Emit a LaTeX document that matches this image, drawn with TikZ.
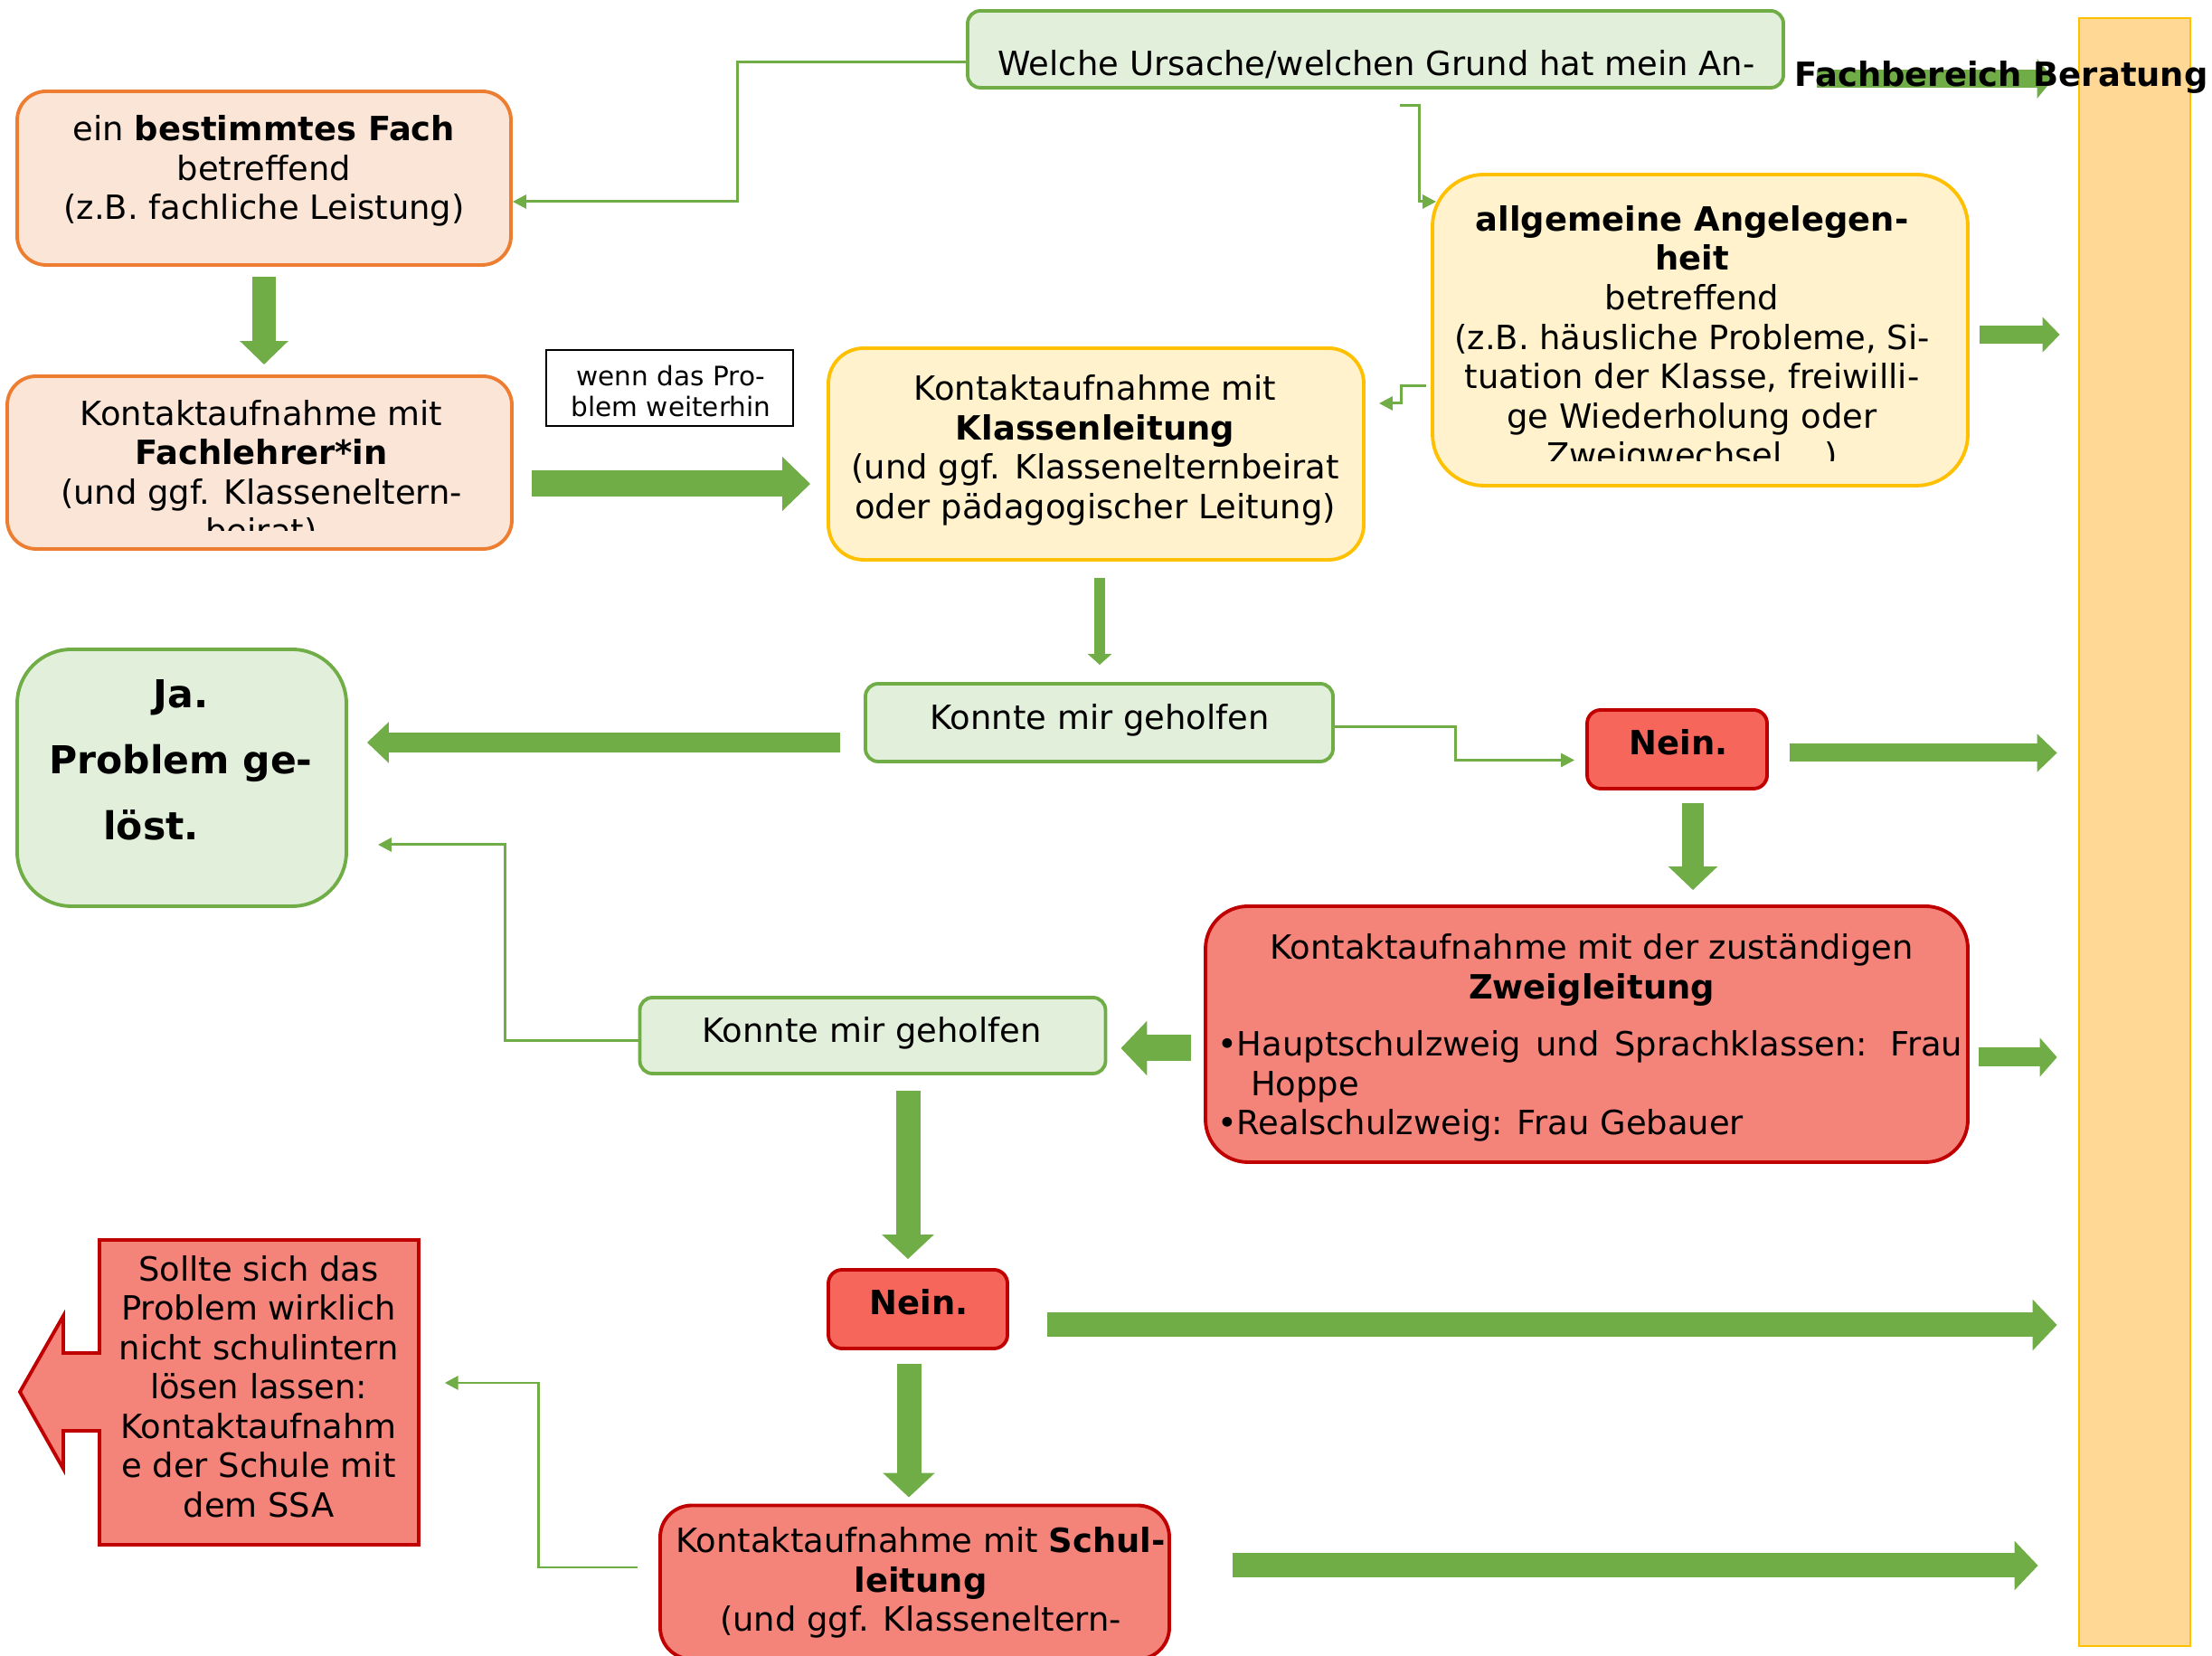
\documentclass[tikz,border=0pt]{standalone}
\usepackage{fontspec}
\setmainfont{DejaVu Sans}
\usetikzlibrary{arrows.meta}

\definecolor{grn}{HTML}{70AD47}
\definecolor{grnfill}{HTML}{E2EFDA}
\definecolor{org}{HTML}{ED7D31}
\definecolor{orgfill}{HTML}{FBE5D6}
\definecolor{ylw}{HTML}{FFC000}
\definecolor{ylwfill}{HTML}{FFF2CC}
\definecolor{dred}{HTML}{C00000}
\definecolor{neinfill}{HTML}{F6665A}
\definecolor{redfill}{HTML}{F4837A}
\definecolor{colfill}{HTML}{FFD896}

\tikzset{
	txt/.style={font=\fontsize{10.5}{12.4}\selectfont, align=center, inner sep=0pt},
	box/.style={draw, line width=1.1pt, inner sep=0pt},
	greenbox/.style={box, draw=grn, fill=grnfill},
	link/.style={draw=grn, line width=0.85pt, -{Triangle[length=1.5mm,width=1.5mm]}},
	fat/.style n args={3}{draw=grn, line width=#1, -{Triangle[width=#2,length=#3]}}
}

\begin{document}
\begin{tikzpicture}
	%%%%% START %%%%%
	\useasboundingbox (0,0) rectangle (24.46,18.31);

	\node[box, draw=ylw, fill=colfill, line width=0.8pt, minimum width=1.23cm, minimum height=18cm] (beratung) at (23.605, 9.11) {};

	\node[greenbox, rounded corners=1.4mm, minimum width=9.02cm, minimum height=0.85cm] (ursache) at (15.21, 17.765) {};
	\node[txt] (ursache-t) at (15.22, 17.60) {Welche Ursache/welchen Grund hat mein An-};
	\draw[fat={2mm}{4.3mm}{1.8mm}, shorten <=3.5mm, shorten >=2.7mm] ([yshift=-3.25mm]ursache.east) -- ([yshift=-3.25mm]ursache.east -| beratung.west);
	\node[txt] (beratung-t) at (22.13, 17.46) {\textbf{Fachbereich Beratung}};

	\node[box, draw=org, fill=orgfill, rounded corners=3.2mm, minimum width=5.46cm, minimum height=1.92cm] (fach) at (2.92, 16.34) {};
	\node[txt] (fach-t) at (2.92, 16.42) {ein \textbf{bestimmtes Fach}\\betreffend\\(z.B. fachliche Leistung)};
	\draw[link] ([yshift=-1.4mm]ursache.west) -- ++(-2.53,0) |- ([yshift=-2.6mm]fach.east);

	\node[box, draw=org, fill=orgfill, rounded corners=3.2mm, minimum width=5.58cm, minimum height=1.91cm] (fachl) at (2.87, 13.195) {};
	\begin{scope}
		\clip (0,12.44) rectangle (6,14.1);
		\node[txt] (fachl-t) at (2.89, 13.07) {Kontaktaufnahme mit\\\textbf{Fachlehrer*in}\\(und ggf. Klasseneltern-\\beirat)};
	\end{scope}
	\draw[fat={2.6mm}{5.2mm}{2.6mm}, shorten <=1.1mm, shorten >=1.1mm] (fach.south) -- (fach.south |- fachl.north);

	\node[draw, line width=0.6pt, inner sep=0pt, minimum width=2.73cm, minimum height=0.84cm] (wenn) at (7.405, 14.02) {};
	\node[txt, font=\fontsize{8.4}{9.6}\selectfont] (wenn-t) at (7.42, 13.985) {wenn das Pro-\\blem weiterhin};

	\node[box, draw=ylw, fill=ylwfill, rounded corners=3.9mm, minimum width=5.92cm, minimum height=2.34cm] (klass) at (12.12, 13.29) {};
	\node[txt] (klass-t) at (12.11, 13.33) {Kontaktaufnahme mit\\\textbf{Klassenleitung}\\(und ggf. Klassenelternbeirat\\oder pädagogischer Leitung)};
	\draw[fat={2.9mm}{5.8mm}{3.1mm}, shorten <=2mm, shorten >=1.8mm] ([yshift=-2.35mm]fachl.east) -- ([yshift=-2.35mm]fachl.east -| klass.west);

	\node[box, draw=ylw, fill=ylwfill, rounded corners=5.7mm, minimum width=5.92cm, minimum height=3.44cm] (allg) at (18.80, 14.66) {};
	\begin{scope}
		\clip (15,13.21) rectangle (22,16.3);
		\node[txt] (allg-t) at (18.71, 14.55) {\textbf{allgemeine Angelegen-}\\\textbf{heit}\\betreffend\\(z.B. häusliche Probleme, Si-\\tuation der Klasse, freiwilli-\\ge Wiederholung oder\\Zweigwechsel ...)};
	\end{scope}
	\coordinate (ursache-ab) at (15.48, 17.14);
	\draw[link] (ursache-ab) -- ++(0.21,0) |- ([xshift=0.6mm, yshift=14.2mm]allg.west);
	\draw[link] ([xshift=-0.5mm, yshift=-6.2mm]allg.west) -- ++(-0.28,0) |- ([xshift=1.5mm, yshift=5.6mm]klass.east);
	\draw[fat={2mm}{3.8mm}{1.9mm}, shorten <=1.1mm, shorten >=2mm] ([yshift=-0.5mm]allg.east) -- ([yshift=-0.5mm]allg.east -| beratung.west);

	\node[greenbox, rounded corners=1.4mm, minimum width=5.17cm, minimum height=0.86cm] (konnte1) at (12.155, 10.32) {};
	\node[txt] (konnte1-t) at (12.16, 10.35) {Konnte mir geholfen};
	\draw[fat={1.2mm}{2.6mm}{1.2mm}, shorten <=1.8mm, shorten >=1.9mm] ([xshift=0.4mm]klass.south) -- ([xshift=0.4mm]klass.south |- konnte1.north);

	\node[greenbox, rounded corners=6mm, minimum width=3.64cm, minimum height=2.84cm] (ja) at (2.01, 9.71) {};
	\node[txt, font=\fontsize{12.1}{20.8}\selectfont\bfseries] (ja-t) at (2.0, 9.91) {Ja.\\Problem ge-\\löst.\hspace*{6.6mm}};
	\draw[fat={2.2mm}{4.4mm}{2.4mm}, shorten <=2.6mm, shorten >=2.1mm] ([yshift=-2.2mm]konnte1.west) -- ([yshift=-2.2mm]konnte1.west -| ja.east);

	\node[box, draw=dred, fill=neinfill, rounded corners=1.5mm, minimum width=1.99cm, minimum height=0.87cm] (nein1) at (18.545, 10.025) {};
	\node[txt] (nein1-t) at (18.56, 10.10) {\textbf{Nein.}};
	\draw[link] ([yshift=-0.5mm]konnte1.east) -- ++(1.34,0) |- ([xshift=-1.2mm, yshift=-1.2mm]nein1.west);
	\draw[fat={2mm}{4.1mm}{2.2mm}, shorten <=2.3mm, shorten >=2.3mm] ([yshift=-0.4mm]nein1.east) -- ([yshift=-0.4mm]nein1.east -| beratung.west);

	\node[box, draw=dred, fill=redfill, rounded corners=4.7mm, minimum width=8.43cm, minimum height=2.83cm] (zweig) at (17.545, 6.875) {};
	\node[txt] (zweig-t) at (17.60, 7.585) {Kontaktaufnahme mit der zuständigen\\\textbf{Zweigleitung}};
	\node[txt] (zweig-l) at (17.58, 6.30) {\parbox{8.24cm}{\makebox[8.24cm][s]{\textbullet Hauptschulzweig und Sprachklassen: Frau}\\\hspace*{3.7mm}Hoppe\\\textbullet Realschulzweig: Frau Gebauer}};
	\draw[fat={2.4mm}{5.3mm}{2.6mm}, shorten <=1.4mm, shorten >=1.6mm] ([xshift=1.75mm]nein1.south) -- ([xshift=1.75mm]nein1.south |- zweig.north);
	\draw[fat={2.1mm}{4.2mm}{1.9mm}, shorten <=1mm, shorten >=2.3mm] ([yshift=-2.55mm]zweig.east) -- ([yshift=-2.55mm]zweig.east -| beratung.west);

	\node[greenbox, rounded corners=1.4mm, minimum width=5.15cm, minimum height=0.84cm] (konnte2) at (9.65, 6.86) {};
	\node[txt] (konnte2-t) at (9.64, 6.89) {Konnte mir geholfen};
	\draw[fat={2.9mm}{5.9mm}{2.9mm}, shorten <=1.4mm, shorten >=1.5mm] ([yshift=-1.55mm]zweig.west) -- ([yshift=-1.55mm]zweig.west -| konnte2.east);
	\draw[link] ([yshift=-0.6mm]konnte2.west) -- ++(-1.47,0) |- ([xshift=3.3mm, yshift=-7.4mm]ja.east);

	\node[box, draw=dred, fill=neinfill, rounded corners=1.5mm, minimum width=1.98cm, minimum height=0.87cm] (nein2) at (10.15, 3.835) {};
	\node[txt] (nein2-t) at (10.16, 3.91) {\textbf{Nein.}};
	\draw[fat={2.7mm}{5.6mm}{2.7mm}, shorten <=1.7mm, shorten >=1mm] ([xshift=-1.1mm]nein2.north |- konnte2.south) -- ([xshift=-1.1mm]nein2.north);
	\draw[fat={2.7mm}{5.5mm}{2.7mm}, shorten <=4.2mm, shorten >=2.3mm] ([yshift=-1.75mm]nein2.east) -- ([yshift=-1.75mm]nein2.east -| beratung.west);

	\node[box, draw=dred, fill=redfill, rounded corners=3.5mm, minimum width=5.63cm, minimum height=1.70cm] (schul) at (10.115, 0.815) {};
	\node[txt] (schul-t) at (10.18, 0.81) {Kontaktaufnahme mit \textbf{Schul-}\\\textbf{leitung}\\(und ggf. Klasseneltern-};
	\draw[fat={2.7mm}{5.6mm}{2.7mm}, shorten <=1.5mm, shorten >=0.7mm] ([xshift=-1mm]nein2.south) -- ([xshift=-1mm]nein2.south |- schul.north);
	\draw[fat={2.7mm}{5.3mm}{2.6mm}, shorten <=6.8mm, shorten >=4.4mm] ([yshift=1.85mm]schul.east) -- ([yshift=1.85mm]schul.east -| beratung.west);

	\draw[box, draw=dred, fill=redfill] (4.63,4.60) -- (1.10,4.60) -- (1.10,3.35) -- (0.70,3.35) -- (0.70,3.76) -- (0.22,2.92) -- (0.70,2.07) -- (0.70,2.49) -- (1.10,2.49) -- (1.10,1.23) -- (4.63,1.23) -- cycle;
	\node[txt, minimum width=3.53cm, minimum height=3.37cm] (ssa) at (2.865, 2.915) {};
	\node[txt] (ssa-t) at (2.86, 2.98) {Sollte sich das\\Problem wirklich\\nicht schulintern\\lösen lassen:\\Kontaktaufnahm\\e der Schule mit\\dem SSA};
	\draw[link] ([xshift=-2.3mm, yshift=1.65mm]schul.west) -- ++(-1.1,0) |- ([xshift=2.8mm, yshift=1.05mm]ssa.east);
	%%%%% END %%%%%
\end{tikzpicture}
\end{document}
